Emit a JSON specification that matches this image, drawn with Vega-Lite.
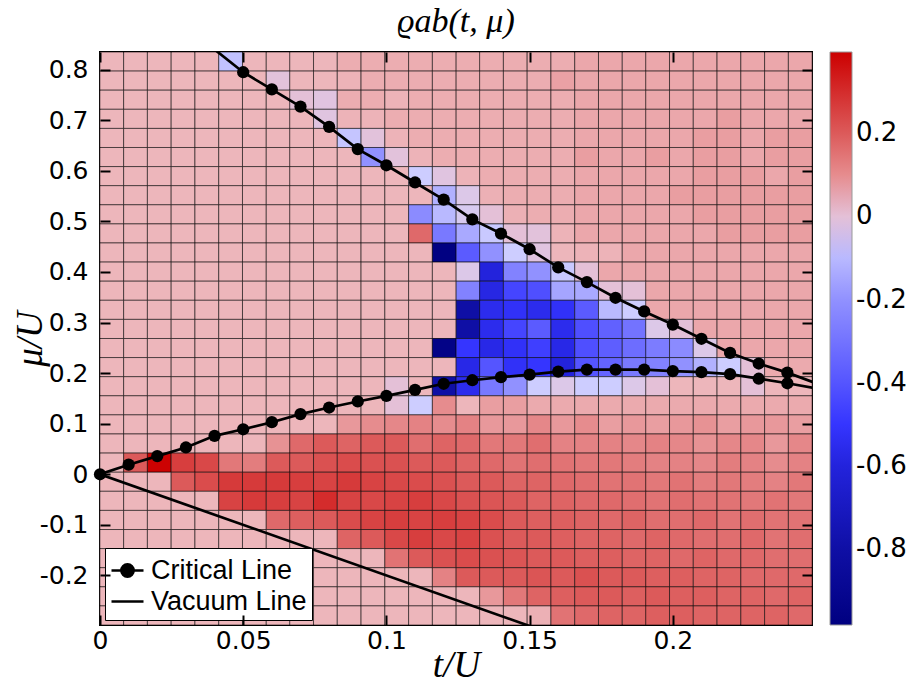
{
"$schema": "https://vega.github.io/schema/vega-lite/v6.json",
"autosize": "none",
"width": 712,
"height": 573,
"padding": {"left": 100, "top": 52, "right": 94, "bottom": 66},
"background": "white",
"config": {"view": {"stroke": "black", "strokeWidth": 2}, "font": "Liberation Sans", "axis": {"labelColor": "black"}, "legend": {"labelColor": "black"}},
"title": {"text": "ϱab(t, μ)", "font": "Liberation Serif", "fontStyle": "italic", "fontWeight": "normal", "fontSize": 34, "color": "black", "offset": 12, "anchor": "middle"},
"datasets": {
"cells": [
{"t":0.0041,"m":0.8161,"v":0.03},{"t":0.0124,"m":0.8161,"v":0.03},{"t":0.0207,"m":0.8161,"v":0.03},{"t":0.029,"m":0.8161,"v":0.03},{"t":0.0373,"m":0.8161,"v":0.03},{"t":0.0456,"m":0.8161,"v":-0.08},{"t":0.0539,"m":0.8161,"v":0.03},{"t":0.0622,"m":0.8161,"v":0.03},{"t":0.0704,"m":0.8161,"v":0.03},{"t":0.0787,"m":0.8161,"v":0.03},{"t":0.087,"m":0.8161,"v":0.045},{"t":0.0953,"m":0.8161,"v":0.045},{"t":0.1036,"m":0.8161,"v":0.045},{"t":0.1119,"m":0.8161,"v":0.045},{"t":0.1202,"m":0.8161,"v":0.045},{"t":0.1285,"m":0.8161,"v":0.045},{"t":0.1367,"m":0.8161,"v":0.045},{"t":0.145,"m":0.8161,"v":0.045},{"t":0.1533,"m":0.8161,"v":0.045},{"t":0.1616,"m":0.8161,"v":0.045},{"t":0.1699,"m":0.8161,"v":0.055},{"t":0.1782,"m":0.8161,"v":0.055},{"t":0.1865,"m":0.8161,"v":0.055},{"t":0.1947,"m":0.8161,"v":0.055},{"t":0.203,"m":0.8161,"v":0.055},{"t":0.2113,"m":0.8161,"v":0.055},{"t":0.2196,"m":0.8161,"v":0.055},{"t":0.2279,"m":0.8161,"v":0.055},{"t":0.2362,"m":0.8161,"v":0.055},{"t":0.2445,"m":0.8161,"v":0.055},
{"t":0.0041,"m":0.7784,"v":0.03},{"t":0.0124,"m":0.7784,"v":0.03},{"t":0.0207,"m":0.7784,"v":0.03},{"t":0.029,"m":0.7784,"v":0.03},{"t":0.0373,"m":0.7784,"v":0.03},{"t":0.0456,"m":0.7784,"v":0.03},{"t":0.0539,"m":0.7784,"v":0.03},{"t":0.0622,"m":0.7784,"v":-0.005},{"t":0.0704,"m":0.7784,"v":0.03},{"t":0.0787,"m":0.7784,"v":0.03},{"t":0.087,"m":0.7784,"v":0.035},{"t":0.0953,"m":0.7784,"v":0.045},{"t":0.1036,"m":0.7784,"v":0.045},{"t":0.1119,"m":0.7784,"v":0.045},{"t":0.1202,"m":0.7784,"v":0.045},{"t":0.1285,"m":0.7784,"v":0.045},{"t":0.1367,"m":0.7784,"v":0.045},{"t":0.145,"m":0.7784,"v":0.045},{"t":0.1533,"m":0.7784,"v":0.045},{"t":0.1616,"m":0.7784,"v":0.065},{"t":0.1699,"m":0.7784,"v":0.055},{"t":0.1782,"m":0.7784,"v":0.055},{"t":0.1865,"m":0.7784,"v":0.055},{"t":0.1947,"m":0.7784,"v":0.055},{"t":0.203,"m":0.7784,"v":0.055},{"t":0.2113,"m":0.7784,"v":0.055},{"t":0.2196,"m":0.7784,"v":0.055},{"t":0.2279,"m":0.7784,"v":0.055},{"t":0.2362,"m":0.7784,"v":0.055},{"t":0.2445,"m":0.7784,"v":0.055},
{"t":0.0041,"m":0.7406,"v":0.03},{"t":0.0124,"m":0.7406,"v":0.03},{"t":0.0207,"m":0.7406,"v":0.03},{"t":0.029,"m":0.7406,"v":0.03},{"t":0.0373,"m":0.7406,"v":0.03},{"t":0.0456,"m":0.7406,"v":0.03},{"t":0.0539,"m":0.7406,"v":0.03},{"t":0.0622,"m":0.7406,"v":0.03},{"t":0.0704,"m":0.7406,"v":0},{"t":0.0787,"m":0.7406,"v":-0.01},{"t":0.087,"m":0.7406,"v":0.045},{"t":0.0953,"m":0.7406,"v":0.045},{"t":0.1036,"m":0.7406,"v":0.035},{"t":0.1119,"m":0.7406,"v":0.045},{"t":0.1202,"m":0.7406,"v":0.045},{"t":0.1285,"m":0.7406,"v":0.045},{"t":0.1367,"m":0.7406,"v":0.045},{"t":0.145,"m":0.7406,"v":0.045},{"t":0.1533,"m":0.7406,"v":0.045},{"t":0.1616,"m":0.7406,"v":0.045},{"t":0.1699,"m":0.7406,"v":0.055},{"t":0.1782,"m":0.7406,"v":0.055},{"t":0.1865,"m":0.7406,"v":0.055},{"t":0.1947,"m":0.7406,"v":0.055},{"t":0.203,"m":0.7406,"v":0.055},{"t":0.2113,"m":0.7406,"v":0.055},{"t":0.2196,"m":0.7406,"v":0.055},{"t":0.2279,"m":0.7406,"v":0.055},{"t":0.2362,"m":0.7406,"v":0.055},{"t":0.2445,"m":0.7406,"v":0.055},
{"t":0.0041,"m":0.7028,"v":0.03},{"t":0.0124,"m":0.7028,"v":0.03},{"t":0.0207,"m":0.7028,"v":0.03},{"t":0.029,"m":0.7028,"v":0.03},{"t":0.0373,"m":0.7028,"v":0.03},{"t":0.0456,"m":0.7028,"v":0.03},{"t":0.0539,"m":0.7028,"v":0.03},{"t":0.0622,"m":0.7028,"v":0.03},{"t":0.0704,"m":0.7028,"v":0.03},{"t":0.0787,"m":0.7028,"v":-0.01},{"t":0.087,"m":0.7028,"v":0.035},{"t":0.0953,"m":0.7028,"v":0.035},{"t":0.1036,"m":0.7028,"v":0.045},{"t":0.1119,"m":0.7028,"v":0.045},{"t":0.1202,"m":0.7028,"v":0.045},{"t":0.1285,"m":0.7028,"v":0.045},{"t":0.1367,"m":0.7028,"v":0.045},{"t":0.145,"m":0.7028,"v":0.045},{"t":0.1533,"m":0.7028,"v":0.045},{"t":0.1616,"m":0.7028,"v":0.045},{"t":0.1699,"m":0.7028,"v":0.055},{"t":0.1782,"m":0.7028,"v":0.055},{"t":0.1865,"m":0.7028,"v":0.055},{"t":0.1947,"m":0.7028,"v":0.055},{"t":0.203,"m":0.7028,"v":0.055},{"t":0.2113,"m":0.7028,"v":0.055},{"t":0.2196,"m":0.7028,"v":0.07},{"t":0.2279,"m":0.7028,"v":0.055},{"t":0.2362,"m":0.7028,"v":0.055},{"t":0.2445,"m":0.7028,"v":0.055},
{"t":0.0041,"m":0.665,"v":0.03},{"t":0.0124,"m":0.665,"v":0.03},{"t":0.0207,"m":0.665,"v":0.03},{"t":0.029,"m":0.665,"v":0.03},{"t":0.0373,"m":0.665,"v":0.03},{"t":0.0456,"m":0.665,"v":0.03},{"t":0.0539,"m":0.665,"v":0.03},{"t":0.0622,"m":0.665,"v":0.03},{"t":0.0704,"m":0.665,"v":0.03},{"t":0.0787,"m":0.665,"v":0.03},{"t":0.087,"m":0.665,"v":-0.07},{"t":0.0953,"m":0.665,"v":-0.005},{"t":0.1036,"m":0.665,"v":0.035},{"t":0.1119,"m":0.665,"v":0.045},{"t":0.1202,"m":0.665,"v":0.045},{"t":0.1285,"m":0.665,"v":0.045},{"t":0.1367,"m":0.665,"v":0.045},{"t":0.145,"m":0.665,"v":0.045},{"t":0.1533,"m":0.665,"v":0.045},{"t":0.1616,"m":0.665,"v":0.045},{"t":0.1699,"m":0.665,"v":0.055},{"t":0.1782,"m":0.665,"v":0.055},{"t":0.1865,"m":0.665,"v":0.055},{"t":0.1947,"m":0.665,"v":0.055},{"t":0.203,"m":0.665,"v":0.055},{"t":0.2113,"m":0.665,"v":0.07},{"t":0.2196,"m":0.665,"v":0.07},{"t":0.2279,"m":0.665,"v":0.055},{"t":0.2362,"m":0.665,"v":0.07},{"t":0.2445,"m":0.665,"v":0.07},
{"t":0.0041,"m":0.6273,"v":0.03},{"t":0.0124,"m":0.6273,"v":0.03},{"t":0.0207,"m":0.6273,"v":0.03},{"t":0.029,"m":0.6273,"v":0.03},{"t":0.0373,"m":0.6273,"v":0.03},{"t":0.0456,"m":0.6273,"v":0.03},{"t":0.0539,"m":0.6273,"v":0.03},{"t":0.0622,"m":0.6273,"v":0.03},{"t":0.0704,"m":0.6273,"v":0.03},{"t":0.0787,"m":0.6273,"v":0.03},{"t":0.087,"m":0.6273,"v":0.03},{"t":0.0953,"m":0.6273,"v":-0.2},{"t":0.1036,"m":0.6273,"v":-0.005},{"t":0.1119,"m":0.6273,"v":0.035},{"t":0.1202,"m":0.6273,"v":0.045},{"t":0.1285,"m":0.6273,"v":0.045},{"t":0.1367,"m":0.6273,"v":0.045},{"t":0.145,"m":0.6273,"v":0.045},{"t":0.1533,"m":0.6273,"v":0.045},{"t":0.1616,"m":0.6273,"v":0.045},{"t":0.1699,"m":0.6273,"v":0.07},{"t":0.1782,"m":0.6273,"v":0.055},{"t":0.1865,"m":0.6273,"v":0.055},{"t":0.1947,"m":0.6273,"v":0.07},{"t":0.203,"m":0.6273,"v":0.055},{"t":0.2113,"m":0.6273,"v":0.07},{"t":0.2196,"m":0.6273,"v":0.07},{"t":0.2279,"m":0.6273,"v":0.055},{"t":0.2362,"m":0.6273,"v":0.07},{"t":0.2445,"m":0.6273,"v":0.07},
{"t":0.0041,"m":0.5895,"v":0.03},{"t":0.0124,"m":0.5895,"v":0.03},{"t":0.0207,"m":0.5895,"v":0.03},{"t":0.029,"m":0.5895,"v":0.03},{"t":0.0373,"m":0.5895,"v":0.03},{"t":0.0456,"m":0.5895,"v":0.03},{"t":0.0539,"m":0.5895,"v":0.03},{"t":0.0622,"m":0.5895,"v":0.03},{"t":0.0704,"m":0.5895,"v":0.03},{"t":0.0787,"m":0.5895,"v":0.03},{"t":0.087,"m":0.5895,"v":0.03},{"t":0.0953,"m":0.5895,"v":0.03},{"t":0.1036,"m":0.5895,"v":0.03},{"t":0.1119,"m":0.5895,"v":-0.05},{"t":0.1202,"m":0.5895,"v":-0.01},{"t":0.1285,"m":0.5895,"v":0.035},{"t":0.1367,"m":0.5895,"v":0.045},{"t":0.145,"m":0.5895,"v":0.045},{"t":0.1533,"m":0.5895,"v":0.045},{"t":0.1616,"m":0.5895,"v":0.045},{"t":0.1699,"m":0.5895,"v":0.055},{"t":0.1782,"m":0.5895,"v":0.055},{"t":0.1865,"m":0.5895,"v":0.055},{"t":0.1947,"m":0.5895,"v":0.055},{"t":0.203,"m":0.5895,"v":0.055},{"t":0.2113,"m":0.5895,"v":0.07},{"t":0.2196,"m":0.5895,"v":0.07},{"t":0.2279,"m":0.5895,"v":0.07},{"t":0.2362,"m":0.5895,"v":0.055},{"t":0.2445,"m":0.5895,"v":0.07},
{"t":0.0041,"m":0.5518,"v":0.03},{"t":0.0124,"m":0.5518,"v":0.03},{"t":0.0207,"m":0.5518,"v":0.03},{"t":0.029,"m":0.5518,"v":0.03},{"t":0.0373,"m":0.5518,"v":0.03},{"t":0.0456,"m":0.5518,"v":0.03},{"t":0.0539,"m":0.5518,"v":0.03},{"t":0.0622,"m":0.5518,"v":0.03},{"t":0.0704,"m":0.5518,"v":0.03},{"t":0.0787,"m":0.5518,"v":0.03},{"t":0.087,"m":0.5518,"v":0.03},{"t":0.0953,"m":0.5518,"v":0.03},{"t":0.1036,"m":0.5518,"v":0.03},{"t":0.1119,"m":0.5518,"v":0.03},{"t":0.1202,"m":0.5518,"v":-0.12},{"t":0.1285,"m":0.5518,"v":-0.02},{"t":0.1367,"m":0.5518,"v":0.04},{"t":0.145,"m":0.5518,"v":0.045},{"t":0.1533,"m":0.5518,"v":0.045},{"t":0.1616,"m":0.5518,"v":0.045},{"t":0.1699,"m":0.5518,"v":0.055},{"t":0.1782,"m":0.5518,"v":0.055},{"t":0.1865,"m":0.5518,"v":0.055},{"t":0.1947,"m":0.5518,"v":0.055},{"t":0.203,"m":0.5518,"v":0.07},{"t":0.2113,"m":0.5518,"v":0.07},{"t":0.2196,"m":0.5518,"v":0.07},{"t":0.2279,"m":0.5518,"v":0.07},{"t":0.2362,"m":0.5518,"v":0.07},{"t":0.2445,"m":0.5518,"v":0.07},
{"t":0.0041,"m":0.514,"v":0.03},{"t":0.0124,"m":0.514,"v":0.03},{"t":0.0207,"m":0.514,"v":0.03},{"t":0.029,"m":0.514,"v":0.03},{"t":0.0373,"m":0.514,"v":0.03},{"t":0.0456,"m":0.514,"v":0.03},{"t":0.0539,"m":0.514,"v":0.03},{"t":0.0622,"m":0.514,"v":0.03},{"t":0.0704,"m":0.514,"v":0.03},{"t":0.0787,"m":0.514,"v":0.03},{"t":0.087,"m":0.514,"v":0.03},{"t":0.0953,"m":0.514,"v":0.03},{"t":0.1036,"m":0.514,"v":0.03},{"t":0.1119,"m":0.514,"v":-0.22},{"t":0.1202,"m":0.514,"v":-0.1},{"t":0.1285,"m":0.514,"v":-0.03},{"t":0.1367,"m":0.514,"v":0},{"t":0.145,"m":0.514,"v":0.04},{"t":0.1533,"m":0.514,"v":0.045},{"t":0.1616,"m":0.514,"v":0.045},{"t":0.1699,"m":0.514,"v":0.055},{"t":0.1782,"m":0.514,"v":0.055},{"t":0.1865,"m":0.514,"v":0.055},{"t":0.1947,"m":0.514,"v":0.055},{"t":0.203,"m":0.514,"v":0.055},{"t":0.2113,"m":0.514,"v":0.07},{"t":0.2196,"m":0.514,"v":0.07},{"t":0.2279,"m":0.514,"v":0.07},{"t":0.2362,"m":0.514,"v":0.07},{"t":0.2445,"m":0.514,"v":0.07},
{"t":0.0041,"m":0.4762,"v":0.03},{"t":0.0124,"m":0.4762,"v":0.03},{"t":0.0207,"m":0.4762,"v":0.03},{"t":0.029,"m":0.4762,"v":0.03},{"t":0.0373,"m":0.4762,"v":0.03},{"t":0.0456,"m":0.4762,"v":0.03},{"t":0.0539,"m":0.4762,"v":0.03},{"t":0.0622,"m":0.4762,"v":0.03},{"t":0.0704,"m":0.4762,"v":0.03},{"t":0.0787,"m":0.4762,"v":0.03},{"t":0.087,"m":0.4762,"v":0.03},{"t":0.0953,"m":0.4762,"v":0.03},{"t":0.1036,"m":0.4762,"v":0.03},{"t":0.1119,"m":0.4762,"v":0.17},{"t":0.1202,"m":0.4762,"v":-0.28},{"t":0.1285,"m":0.4762,"v":-0.14},{"t":0.1367,"m":0.4762,"v":-0.06},{"t":0.145,"m":0.4762,"v":0},{"t":0.1533,"m":0.4762,"v":-0.005},{"t":0.1616,"m":0.4762,"v":0.035},{"t":0.1699,"m":0.4762,"v":0.055},{"t":0.1782,"m":0.4762,"v":0.055},{"t":0.1865,"m":0.4762,"v":0.055},{"t":0.1947,"m":0.4762,"v":0.055},{"t":0.203,"m":0.4762,"v":0.055},{"t":0.2113,"m":0.4762,"v":0.055},{"t":0.2196,"m":0.4762,"v":0.07},{"t":0.2279,"m":0.4762,"v":0.07},{"t":0.2362,"m":0.4762,"v":0.07},{"t":0.2445,"m":0.4762,"v":0.07},
{"t":0.0041,"m":0.4385,"v":0.03},{"t":0.0124,"m":0.4385,"v":0.03},{"t":0.0207,"m":0.4385,"v":0.03},{"t":0.029,"m":0.4385,"v":0.03},{"t":0.0373,"m":0.4385,"v":0.03},{"t":0.0456,"m":0.4385,"v":0.03},{"t":0.0539,"m":0.4385,"v":0.03},{"t":0.0622,"m":0.4385,"v":0.03},{"t":0.0704,"m":0.4385,"v":0.03},{"t":0.0787,"m":0.4385,"v":0.03},{"t":0.087,"m":0.4385,"v":0.03},{"t":0.0953,"m":0.4385,"v":0.03},{"t":0.1036,"m":0.4385,"v":0.03},{"t":0.1119,"m":0.4385,"v":0.03},{"t":0.1202,"m":0.4385,"v":-0.97},{"t":0.1285,"m":0.4385,"v":-0.38},{"t":0.1367,"m":0.4385,"v":-0.2},{"t":0.145,"m":0.4385,"v":-0.05},{"t":0.1533,"m":0.4385,"v":-0.01},{"t":0.1616,"m":0.4385,"v":0.03},{"t":0.1699,"m":0.4385,"v":0.035},{"t":0.1782,"m":0.4385,"v":0.035},{"t":0.1865,"m":0.4385,"v":0.055},{"t":0.1947,"m":0.4385,"v":0.055},{"t":0.203,"m":0.4385,"v":0.055},{"t":0.2113,"m":0.4385,"v":0.055},{"t":0.2196,"m":0.4385,"v":0.055},{"t":0.2279,"m":0.4385,"v":0.055},{"t":0.2362,"m":0.4385,"v":0.055},{"t":0.2445,"m":0.4385,"v":0.055},
{"t":0.0041,"m":0.4007,"v":0.03},{"t":0.0124,"m":0.4007,"v":0.03},{"t":0.0207,"m":0.4007,"v":0.03},{"t":0.029,"m":0.4007,"v":0.03},{"t":0.0373,"m":0.4007,"v":0.03},{"t":0.0456,"m":0.4007,"v":0.03},{"t":0.0539,"m":0.4007,"v":0.03},{"t":0.0622,"m":0.4007,"v":0.03},{"t":0.0704,"m":0.4007,"v":0.03},{"t":0.0787,"m":0.4007,"v":0.03},{"t":0.087,"m":0.4007,"v":0.03},{"t":0.0953,"m":0.4007,"v":0.03},{"t":0.1036,"m":0.4007,"v":0.03},{"t":0.1119,"m":0.4007,"v":0.03},{"t":0.1202,"m":0.4007,"v":0.03},{"t":0.1285,"m":0.4007,"v":-0.02},{"t":0.1367,"m":0.4007,"v":-0.6},{"t":0.145,"m":0.4007,"v":-0.25},{"t":0.1533,"m":0.4007,"v":-0.2},{"t":0.1616,"m":0.4007,"v":-0.06},{"t":0.1699,"m":0.4007,"v":0},{"t":0.1782,"m":0.4007,"v":0.055},{"t":0.1865,"m":0.4007,"v":0.055},{"t":0.1947,"m":0.4007,"v":0.055},{"t":0.203,"m":0.4007,"v":0.055},{"t":0.2113,"m":0.4007,"v":0.055},{"t":0.2196,"m":0.4007,"v":0.055},{"t":0.2279,"m":0.4007,"v":0.055},{"t":0.2362,"m":0.4007,"v":0.055},{"t":0.2445,"m":0.4007,"v":0.055},
{"t":0.0041,"m":0.3629,"v":0.03},{"t":0.0124,"m":0.3629,"v":0.03},{"t":0.0207,"m":0.3629,"v":0.03},{"t":0.029,"m":0.3629,"v":0.03},{"t":0.0373,"m":0.3629,"v":0.03},{"t":0.0456,"m":0.3629,"v":0.03},{"t":0.0539,"m":0.3629,"v":0.03},{"t":0.0622,"m":0.3629,"v":0.03},{"t":0.0704,"m":0.3629,"v":0.03},{"t":0.0787,"m":0.3629,"v":0.03},{"t":0.087,"m":0.3629,"v":0.03},{"t":0.0953,"m":0.3629,"v":0.03},{"t":0.1036,"m":0.3629,"v":0.03},{"t":0.1119,"m":0.3629,"v":0.03},{"t":0.1202,"m":0.3629,"v":0.03},{"t":0.1285,"m":0.3629,"v":-0.25},{"t":0.1367,"m":0.3629,"v":-0.58},{"t":0.145,"m":0.3629,"v":-0.45},{"t":0.1533,"m":0.3629,"v":-0.42},{"t":0.1616,"m":0.3629,"v":-0.15},{"t":0.1699,"m":0.3629,"v":-0.14},{"t":0.1782,"m":0.3629,"v":0},{"t":0.1865,"m":0.3629,"v":0},{"t":0.1947,"m":0.3629,"v":0.055},{"t":0.203,"m":0.3629,"v":0.055},{"t":0.2113,"m":0.3629,"v":0.055},{"t":0.2196,"m":0.3629,"v":0.055},{"t":0.2279,"m":0.3629,"v":0.055},{"t":0.2362,"m":0.3629,"v":0.055},{"t":0.2445,"m":0.3629,"v":0.055},
{"t":0.0041,"m":0.3252,"v":0.03},{"t":0.0124,"m":0.3252,"v":0.03},{"t":0.0207,"m":0.3252,"v":0.03},{"t":0.029,"m":0.3252,"v":0.03},{"t":0.0373,"m":0.3252,"v":0.03},{"t":0.0456,"m":0.3252,"v":0.03},{"t":0.0539,"m":0.3252,"v":0.03},{"t":0.0622,"m":0.3252,"v":0.03},{"t":0.0704,"m":0.3252,"v":0.03},{"t":0.0787,"m":0.3252,"v":0.03},{"t":0.087,"m":0.3252,"v":0.03},{"t":0.0953,"m":0.3252,"v":0.03},{"t":0.1036,"m":0.3252,"v":0.03},{"t":0.1119,"m":0.3252,"v":0.03},{"t":0.1202,"m":0.3252,"v":0.03},{"t":0.1285,"m":0.3252,"v":-0.8},{"t":0.1367,"m":0.3252,"v":-0.55},{"t":0.145,"m":0.3252,"v":-0.52},{"t":0.1533,"m":0.3252,"v":-0.55},{"t":0.1616,"m":0.3252,"v":-0.52},{"t":0.1699,"m":0.3252,"v":-0.38},{"t":0.1782,"m":0.3252,"v":-0.1},{"t":0.1865,"m":0.3252,"v":-0.05},{"t":0.1947,"m":0.3252,"v":0.055},{"t":0.203,"m":0.3252,"v":0.055},{"t":0.2113,"m":0.3252,"v":0.055},{"t":0.2196,"m":0.3252,"v":0.055},{"t":0.2279,"m":0.3252,"v":0.055},{"t":0.2362,"m":0.3252,"v":0.055},{"t":0.2445,"m":0.3252,"v":0.055},
{"t":0.0041,"m":0.2874,"v":0.03},{"t":0.0124,"m":0.2874,"v":0.03},{"t":0.0207,"m":0.2874,"v":0.03},{"t":0.029,"m":0.2874,"v":0.03},{"t":0.0373,"m":0.2874,"v":0.03},{"t":0.0456,"m":0.2874,"v":0.03},{"t":0.0539,"m":0.2874,"v":0.03},{"t":0.0622,"m":0.2874,"v":0.03},{"t":0.0704,"m":0.2874,"v":0.03},{"t":0.0787,"m":0.2874,"v":0.03},{"t":0.087,"m":0.2874,"v":0.03},{"t":0.0953,"m":0.2874,"v":0.03},{"t":0.1036,"m":0.2874,"v":0.03},{"t":0.1119,"m":0.2874,"v":0.03},{"t":0.1202,"m":0.2874,"v":0.03},{"t":0.1285,"m":0.2874,"v":-0.8},{"t":0.1367,"m":0.2874,"v":-0.55},{"t":0.145,"m":0.2874,"v":-0.45},{"t":0.1533,"m":0.2874,"v":-0.38},{"t":0.1616,"m":0.2874,"v":-0.55},{"t":0.1699,"m":0.2874,"v":-0.42},{"t":0.1782,"m":0.2874,"v":-0.36},{"t":0.1865,"m":0.2874,"v":-0.3},{"t":0.1947,"m":0.2874,"v":-0.02},{"t":0.203,"m":0.2874,"v":0},{"t":0.2113,"m":0.2874,"v":0.055},{"t":0.2196,"m":0.2874,"v":0.055},{"t":0.2279,"m":0.2874,"v":0.055},{"t":0.2362,"m":0.2874,"v":0.055},{"t":0.2445,"m":0.2874,"v":0.055},
{"t":0.0041,"m":0.2496,"v":0.03},{"t":0.0124,"m":0.2496,"v":0.03},{"t":0.0207,"m":0.2496,"v":0.03},{"t":0.029,"m":0.2496,"v":0.03},{"t":0.0373,"m":0.2496,"v":0.03},{"t":0.0456,"m":0.2496,"v":0.03},{"t":0.0539,"m":0.2496,"v":0.03},{"t":0.0622,"m":0.2496,"v":0.03},{"t":0.0704,"m":0.2496,"v":0.03},{"t":0.0787,"m":0.2496,"v":0.03},{"t":0.087,"m":0.2496,"v":0.03},{"t":0.0953,"m":0.2496,"v":0.03},{"t":0.1036,"m":0.2496,"v":0.03},{"t":0.1119,"m":0.2496,"v":0.03},{"t":0.1202,"m":0.2496,"v":-0.95},{"t":0.1285,"m":0.2496,"v":-0.5},{"t":0.1367,"m":0.2496,"v":-0.57},{"t":0.145,"m":0.2496,"v":-0.52},{"t":0.1533,"m":0.2496,"v":-0.47},{"t":0.1616,"m":0.2496,"v":-0.57},{"t":0.1699,"m":0.2496,"v":-0.42},{"t":0.1782,"m":0.2496,"v":-0.37},{"t":0.1865,"m":0.2496,"v":-0.32},{"t":0.1947,"m":0.2496,"v":-0.27},{"t":0.203,"m":0.2496,"v":-0.22},{"t":0.2113,"m":0.2496,"v":-0.02},{"t":0.2196,"m":0.2496,"v":0.055},{"t":0.2279,"m":0.2496,"v":0.055},{"t":0.2362,"m":0.2496,"v":0.055},{"t":0.2445,"m":0.2496,"v":0.055},
{"t":0.0041,"m":0.2119,"v":0.03},{"t":0.0124,"m":0.2119,"v":0.03},{"t":0.0207,"m":0.2119,"v":0.03},{"t":0.029,"m":0.2119,"v":0.03},{"t":0.0373,"m":0.2119,"v":0.03},{"t":0.0456,"m":0.2119,"v":0.03},{"t":0.0539,"m":0.2119,"v":0.03},{"t":0.0622,"m":0.2119,"v":0.03},{"t":0.0704,"m":0.2119,"v":0.03},{"t":0.0787,"m":0.2119,"v":0.03},{"t":0.087,"m":0.2119,"v":0.03},{"t":0.0953,"m":0.2119,"v":0.03},{"t":0.1036,"m":0.2119,"v":0.03},{"t":0.1119,"m":0.2119,"v":0.03},{"t":0.1202,"m":0.2119,"v":0.03},{"t":0.1285,"m":0.2119,"v":-0.57},{"t":0.1367,"m":0.2119,"v":-0.4},{"t":0.145,"m":0.2119,"v":-0.52},{"t":0.1533,"m":0.2119,"v":-0.5},{"t":0.1616,"m":0.2119,"v":-0.6},{"t":0.1699,"m":0.2119,"v":-0.4},{"t":0.1782,"m":0.2119,"v":-0.35},{"t":0.1865,"m":0.2119,"v":-0.28},{"t":0.1947,"m":0.2119,"v":-0.25},{"t":0.203,"m":0.2119,"v":-0.2},{"t":0.2113,"m":0.2119,"v":-0.12},{"t":0.2196,"m":0.2119,"v":-0.05},{"t":0.2279,"m":0.2119,"v":0},{"t":0.2362,"m":0.2119,"v":0.05},{"t":0.2445,"m":0.2119,"v":0.05},
{"t":0.0041,"m":0.1741,"v":0.03},{"t":0.0124,"m":0.1741,"v":0.03},{"t":0.0207,"m":0.1741,"v":0.03},{"t":0.029,"m":0.1741,"v":0.03},{"t":0.0373,"m":0.1741,"v":0.03},{"t":0.0456,"m":0.1741,"v":0.03},{"t":0.0539,"m":0.1741,"v":0.03},{"t":0.0622,"m":0.1741,"v":0.03},{"t":0.0704,"m":0.1741,"v":0.03},{"t":0.0787,"m":0.1741,"v":0.03},{"t":0.087,"m":0.1741,"v":0.03},{"t":0.0953,"m":0.1741,"v":0.03},{"t":0.1036,"m":0.1741,"v":0},{"t":0.1119,"m":0.1741,"v":0.03},{"t":0.1202,"m":0.1741,"v":-0.8},{"t":0.1285,"m":0.1741,"v":-0.55},{"t":0.1367,"m":0.1741,"v":-0.28},{"t":0.145,"m":0.1741,"v":-0.2},{"t":0.1533,"m":0.1741,"v":-0.05},{"t":0.1616,"m":0.1741,"v":-0.02},{"t":0.1699,"m":0.1741,"v":-0.05},{"t":0.1782,"m":0.1741,"v":-0.05},{"t":0.1865,"m":0.1741,"v":-0.02},{"t":0.1947,"m":0.1741,"v":0},{"t":0.203,"m":0.1741,"v":0.03},{"t":0.2113,"m":0.1741,"v":0.03},{"t":0.2196,"m":0.1741,"v":0.03},{"t":0.2279,"m":0.1741,"v":0},{"t":0.2362,"m":0.1741,"v":0.03},{"t":0.2445,"m":0.1741,"v":0.03},
{"t":0.0041,"m":0.1363,"v":0.03},{"t":0.0124,"m":0.1363,"v":0.03},{"t":0.0207,"m":0.1363,"v":0.03},{"t":0.029,"m":0.1363,"v":0.03},{"t":0.0373,"m":0.1363,"v":0.03},{"t":0.0456,"m":0.1363,"v":0.03},{"t":0.0539,"m":0.1363,"v":0.03},{"t":0.0622,"m":0.1363,"v":0.03},{"t":0.0704,"m":0.1363,"v":0.03},{"t":0.0787,"m":0.1363,"v":0.03},{"t":0.087,"m":0.1363,"v":0.03},{"t":0.0953,"m":0.1363,"v":0.03},{"t":0.1036,"m":0.1363,"v":0},{"t":0.1119,"m":0.1363,"v":-0.05},{"t":0.1202,"m":0.1363,"v":0.1},{"t":0.1285,"m":0.1363,"v":0.03},{"t":0.1367,"m":0.1363,"v":0.07},{"t":0.145,"m":0.1363,"v":0.07},{"t":0.1533,"m":0.1363,"v":0.05},{"t":0.1616,"m":0.1363,"v":0.05},{"t":0.1699,"m":0.1363,"v":0.05},{"t":0.1782,"m":0.1363,"v":0.05},{"t":0.1865,"m":0.1363,"v":0.05},{"t":0.1947,"m":0.1363,"v":0.05},{"t":0.203,"m":0.1363,"v":0.05},{"t":0.2113,"m":0.1363,"v":0.05},{"t":0.2196,"m":0.1363,"v":0.05},{"t":0.2279,"m":0.1363,"v":0.05},{"t":0.2362,"m":0.1363,"v":0.05},{"t":0.2445,"m":0.1363,"v":0.05},
{"t":0.0041,"m":0.0986,"v":0.03},{"t":0.0124,"m":0.0986,"v":0.03},{"t":0.0207,"m":0.0986,"v":0.03},{"t":0.029,"m":0.0986,"v":0.03},{"t":0.0373,"m":0.0986,"v":0.03},{"t":0.0456,"m":0.0986,"v":0.03},{"t":0.0539,"m":0.0986,"v":0.03},{"t":0.0622,"m":0.0986,"v":0.03},{"t":0.0704,"m":0.0986,"v":0.03},{"t":0.0787,"m":0.0986,"v":0.03},{"t":0.087,"m":0.0986,"v":0.08},{"t":0.0953,"m":0.0986,"v":0.1},{"t":0.1036,"m":0.0986,"v":0.11},{"t":0.1119,"m":0.0986,"v":0.12},{"t":0.1202,"m":0.0986,"v":0.1},{"t":0.1285,"m":0.0986,"v":0.12},{"t":0.1367,"m":0.0986,"v":0.08},{"t":0.145,"m":0.0986,"v":0.08},{"t":0.1533,"m":0.0986,"v":0.11},{"t":0.1616,"m":0.0986,"v":0.08},{"t":0.1699,"m":0.0986,"v":0.1},{"t":0.1782,"m":0.0986,"v":0.07},{"t":0.1865,"m":0.0986,"v":0.08},{"t":0.1947,"m":0.0986,"v":0.07},{"t":0.203,"m":0.0986,"v":0.08},{"t":0.2113,"m":0.0986,"v":0.09},{"t":0.2196,"m":0.0986,"v":0.07},{"t":0.2279,"m":0.0986,"v":0.08},{"t":0.2362,"m":0.0986,"v":0.08},{"t":0.2445,"m":0.0986,"v":0.07},
{"t":0.0041,"m":0.0608,"v":0.03},{"t":0.0124,"m":0.0608,"v":0.03},{"t":0.0207,"m":0.0608,"v":0.03},{"t":0.029,"m":0.0608,"v":0.03},{"t":0.0373,"m":0.0608,"v":0.03},{"t":0.0456,"m":0.0608,"v":0.03},{"t":0.0539,"m":0.0608,"v":0.03},{"t":0.0622,"m":0.0608,"v":0.09},{"t":0.0704,"m":0.0608,"v":0.17},{"t":0.0787,"m":0.0608,"v":0.2},{"t":0.087,"m":0.0608,"v":0.18},{"t":0.0953,"m":0.0608,"v":0.2},{"t":0.1036,"m":0.0608,"v":0.2},{"t":0.1119,"m":0.0608,"v":0.16},{"t":0.1202,"m":0.0608,"v":0.18},{"t":0.1285,"m":0.0608,"v":0.17},{"t":0.1367,"m":0.0608,"v":0.14},{"t":0.145,"m":0.0608,"v":0.14},{"t":0.1533,"m":0.0608,"v":0.16},{"t":0.1616,"m":0.0608,"v":0.12},{"t":0.1699,"m":0.0608,"v":0.12},{"t":0.1782,"m":0.0608,"v":0.12},{"t":0.1865,"m":0.0608,"v":0.11},{"t":0.1947,"m":0.0608,"v":0.12},{"t":0.203,"m":0.0608,"v":0.11},{"t":0.2113,"m":0.0608,"v":0.09},{"t":0.2196,"m":0.0608,"v":0.11},{"t":0.2279,"m":0.0608,"v":0.11},{"t":0.2362,"m":0.0608,"v":0.08},{"t":0.2445,"m":0.0608,"v":0.11},
{"t":0.0041,"m":0.023,"v":0.03},{"t":0.0124,"m":0.023,"v":0.2},{"t":0.0207,"m":0.023,"v":0.39},{"t":0.029,"m":0.023,"v":0.26},{"t":0.0373,"m":0.023,"v":0.24},{"t":0.0456,"m":0.023,"v":0.14},{"t":0.0539,"m":0.023,"v":0.13},{"t":0.0622,"m":0.023,"v":0.2},{"t":0.0704,"m":0.023,"v":0.2},{"t":0.0787,"m":0.023,"v":0.22},{"t":0.087,"m":0.023,"v":0.23},{"t":0.0953,"m":0.023,"v":0.22},{"t":0.1036,"m":0.023,"v":0.22},{"t":0.1119,"m":0.023,"v":0.2},{"t":0.1202,"m":0.023,"v":0.2},{"t":0.1285,"m":0.023,"v":0.18},{"t":0.1367,"m":0.023,"v":0.17},{"t":0.145,"m":0.023,"v":0.15},{"t":0.1533,"m":0.023,"v":0.16},{"t":0.1616,"m":0.023,"v":0.15},{"t":0.1699,"m":0.023,"v":0.14},{"t":0.1782,"m":0.023,"v":0.14},{"t":0.1865,"m":0.023,"v":0.13},{"t":0.1947,"m":0.023,"v":0.12},{"t":0.203,"m":0.023,"v":0.12},{"t":0.2113,"m":0.023,"v":0.11},{"t":0.2196,"m":0.023,"v":0.13},{"t":0.2279,"m":0.023,"v":0.12},{"t":0.2362,"m":0.023,"v":0.1},{"t":0.2445,"m":0.023,"v":0.12},
{"t":0.0041,"m":-0.0148,"v":0.03},{"t":0.0124,"m":-0.0148,"v":0.03},{"t":0.0207,"m":-0.0148,"v":0.03},{"t":0.029,"m":-0.0148,"v":0.2},{"t":0.0373,"m":-0.0148,"v":0.23},{"t":0.0456,"m":-0.0148,"v":0.27},{"t":0.0539,"m":-0.0148,"v":0.27},{"t":0.0622,"m":-0.0148,"v":0.27},{"t":0.0704,"m":-0.0148,"v":0.26},{"t":0.0787,"m":-0.0148,"v":0.25},{"t":0.087,"m":-0.0148,"v":0.27},{"t":0.0953,"m":-0.0148,"v":0.25},{"t":0.1036,"m":-0.0148,"v":0.24},{"t":0.1119,"m":-0.0148,"v":0.23},{"t":0.1202,"m":-0.0148,"v":0.22},{"t":0.1285,"m":-0.0148,"v":0.2},{"t":0.1367,"m":-0.0148,"v":0.2},{"t":0.145,"m":-0.0148,"v":0.18},{"t":0.1533,"m":-0.0148,"v":0.18},{"t":0.1616,"m":-0.0148,"v":0.17},{"t":0.1699,"m":-0.0148,"v":0.16},{"t":0.1782,"m":-0.0148,"v":0.15},{"t":0.1865,"m":-0.0148,"v":0.15},{"t":0.1947,"m":-0.0148,"v":0.14},{"t":0.203,"m":-0.0148,"v":0.15},{"t":0.2113,"m":-0.0148,"v":0.13},{"t":0.2196,"m":-0.0148,"v":0.14},{"t":0.2279,"m":-0.0148,"v":0.13},{"t":0.2362,"m":-0.0148,"v":0.12},{"t":0.2445,"m":-0.0148,"v":0.14},
{"t":0.0041,"m":-0.0525,"v":0.03},{"t":0.0124,"m":-0.0525,"v":0.03},{"t":0.0207,"m":-0.0525,"v":0.03},{"t":0.029,"m":-0.0525,"v":0.03},{"t":0.0373,"m":-0.0525,"v":0.03},{"t":0.0456,"m":-0.0525,"v":0.25},{"t":0.0539,"m":-0.0525,"v":0.27},{"t":0.0622,"m":-0.0525,"v":0.26},{"t":0.0704,"m":-0.0525,"v":0.25},{"t":0.0787,"m":-0.0525,"v":0.3},{"t":0.087,"m":-0.0525,"v":0.25},{"t":0.0953,"m":-0.0525,"v":0.24},{"t":0.1036,"m":-0.0525,"v":0.25},{"t":0.1119,"m":-0.0525,"v":0.26},{"t":0.1202,"m":-0.0525,"v":0.24},{"t":0.1285,"m":-0.0525,"v":0.22},{"t":0.1367,"m":-0.0525,"v":0.21},{"t":0.145,"m":-0.0525,"v":0.2},{"t":0.1533,"m":-0.0525,"v":0.18},{"t":0.1616,"m":-0.0525,"v":0.18},{"t":0.1699,"m":-0.0525,"v":0.17},{"t":0.1782,"m":-0.0525,"v":0.17},{"t":0.1865,"m":-0.0525,"v":0.16},{"t":0.1947,"m":-0.0525,"v":0.15},{"t":0.203,"m":-0.0525,"v":0.16},{"t":0.2113,"m":-0.0525,"v":0.15},{"t":0.2196,"m":-0.0525,"v":0.15},{"t":0.2279,"m":-0.0525,"v":0.14},{"t":0.2362,"m":-0.0525,"v":0.15},{"t":0.2445,"m":-0.0525,"v":0.14},
{"t":0.0041,"m":-0.0903,"v":0.03},{"t":0.0124,"m":-0.0903,"v":0.03},{"t":0.0207,"m":-0.0903,"v":0.03},{"t":0.029,"m":-0.0903,"v":0.03},{"t":0.0373,"m":-0.0903,"v":0.03},{"t":0.0456,"m":-0.0903,"v":0.03},{"t":0.0539,"m":-0.0903,"v":0.03},{"t":0.0622,"m":-0.0903,"v":0.17},{"t":0.0704,"m":-0.0903,"v":0.19},{"t":0.0787,"m":-0.0903,"v":0.2},{"t":0.087,"m":-0.0903,"v":0.23},{"t":0.0953,"m":-0.0903,"v":0.25},{"t":0.1036,"m":-0.0903,"v":0.26},{"t":0.1119,"m":-0.0903,"v":0.25},{"t":0.1202,"m":-0.0903,"v":0.26},{"t":0.1285,"m":-0.0903,"v":0.25},{"t":0.1367,"m":-0.0903,"v":0.23},{"t":0.145,"m":-0.0903,"v":0.2},{"t":0.1533,"m":-0.0903,"v":0.19},{"t":0.1616,"m":-0.0903,"v":0.19},{"t":0.1699,"m":-0.0903,"v":0.18},{"t":0.1782,"m":-0.0903,"v":0.17},{"t":0.1865,"m":-0.0903,"v":0.18},{"t":0.1947,"m":-0.0903,"v":0.16},{"t":0.203,"m":-0.0903,"v":0.16},{"t":0.2113,"m":-0.0903,"v":0.17},{"t":0.2196,"m":-0.0903,"v":0.15},{"t":0.2279,"m":-0.0903,"v":0.16},{"t":0.2362,"m":-0.0903,"v":0.15},{"t":0.2445,"m":-0.0903,"v":0.15},
{"t":0.0041,"m":-0.1281,"v":0.03},{"t":0.0124,"m":-0.1281,"v":0.03},{"t":0.0207,"m":-0.1281,"v":0.03},{"t":0.029,"m":-0.1281,"v":0.03},{"t":0.0373,"m":-0.1281,"v":0.03},{"t":0.0456,"m":-0.1281,"v":0.03},{"t":0.0539,"m":-0.1281,"v":0.03},{"t":0.0622,"m":-0.1281,"v":0.03},{"t":0.0704,"m":-0.1281,"v":0.03},{"t":0.0787,"m":-0.1281,"v":0.03},{"t":0.087,"m":-0.1281,"v":0.18},{"t":0.0953,"m":-0.1281,"v":0.2},{"t":0.1036,"m":-0.1281,"v":0.24},{"t":0.1119,"m":-0.1281,"v":0.26},{"t":0.1202,"m":-0.1281,"v":0.24},{"t":0.1285,"m":-0.1281,"v":0.25},{"t":0.1367,"m":-0.1281,"v":0.22},{"t":0.145,"m":-0.1281,"v":0.2},{"t":0.1533,"m":-0.1281,"v":0.2},{"t":0.1616,"m":-0.1281,"v":0.19},{"t":0.1699,"m":-0.1281,"v":0.18},{"t":0.1782,"m":-0.1281,"v":0.18},{"t":0.1865,"m":-0.1281,"v":0.17},{"t":0.1947,"m":-0.1281,"v":0.18},{"t":0.203,"m":-0.1281,"v":0.17},{"t":0.2113,"m":-0.1281,"v":0.16},{"t":0.2196,"m":-0.1281,"v":0.16},{"t":0.2279,"m":-0.1281,"v":0.17},{"t":0.2362,"m":-0.1281,"v":0.15},{"t":0.2445,"m":-0.1281,"v":0.16},
{"t":0.0041,"m":-0.1658,"v":0.03},{"t":0.0124,"m":-0.1658,"v":0.03},{"t":0.0207,"m":-0.1658,"v":0.03},{"t":0.029,"m":-0.1658,"v":0.03},{"t":0.0373,"m":-0.1658,"v":0.03},{"t":0.0456,"m":-0.1658,"v":0.03},{"t":0.0539,"m":-0.1658,"v":0.03},{"t":0.0622,"m":-0.1658,"v":0.03},{"t":0.0704,"m":-0.1658,"v":0.03},{"t":0.0787,"m":-0.1658,"v":0.03},{"t":0.087,"m":-0.1658,"v":0.03},{"t":0.0953,"m":-0.1658,"v":0.03},{"t":0.1036,"m":-0.1658,"v":0.15},{"t":0.1119,"m":-0.1658,"v":0.2},{"t":0.1202,"m":-0.1658,"v":0.22},{"t":0.1285,"m":-0.1658,"v":0.23},{"t":0.1367,"m":-0.1658,"v":0.22},{"t":0.145,"m":-0.1658,"v":0.21},{"t":0.1533,"m":-0.1658,"v":0.2},{"t":0.1616,"m":-0.1658,"v":0.2},{"t":0.1699,"m":-0.1658,"v":0.19},{"t":0.1782,"m":-0.1658,"v":0.19},{"t":0.1865,"m":-0.1658,"v":0.18},{"t":0.1947,"m":-0.1658,"v":0.18},{"t":0.203,"m":-0.1658,"v":0.17},{"t":0.2113,"m":-0.1658,"v":0.18},{"t":0.2196,"m":-0.1658,"v":0.17},{"t":0.2279,"m":-0.1658,"v":0.17},{"t":0.2362,"m":-0.1658,"v":0.16},{"t":0.2445,"m":-0.1658,"v":0.16},
{"t":0.0041,"m":-0.2036,"v":0.03},{"t":0.0124,"m":-0.2036,"v":0.03},{"t":0.0207,"m":-0.2036,"v":0.03},{"t":0.029,"m":-0.2036,"v":0.03},{"t":0.0373,"m":-0.2036,"v":0.03},{"t":0.0456,"m":-0.2036,"v":0.03},{"t":0.0539,"m":-0.2036,"v":0.03},{"t":0.0622,"m":-0.2036,"v":0.03},{"t":0.0704,"m":-0.2036,"v":0.03},{"t":0.0787,"m":-0.2036,"v":0.03},{"t":0.087,"m":-0.2036,"v":0.03},{"t":0.0953,"m":-0.2036,"v":0.03},{"t":0.1036,"m":-0.2036,"v":0.03},{"t":0.1119,"m":-0.2036,"v":0.03},{"t":0.1202,"m":-0.2036,"v":0.12},{"t":0.1285,"m":-0.2036,"v":0.2},{"t":0.1367,"m":-0.2036,"v":0.2},{"t":0.145,"m":-0.2036,"v":0.2},{"t":0.1533,"m":-0.2036,"v":0.21},{"t":0.1616,"m":-0.2036,"v":0.2},{"t":0.1699,"m":-0.2036,"v":0.22},{"t":0.1782,"m":-0.2036,"v":0.2},{"t":0.1865,"m":-0.2036,"v":0.2},{"t":0.1947,"m":-0.2036,"v":0.19},{"t":0.203,"m":-0.2036,"v":0.19},{"t":0.2113,"m":-0.2036,"v":0.18},{"t":0.2196,"m":-0.2036,"v":0.18},{"t":0.2279,"m":-0.2036,"v":0.17},{"t":0.2362,"m":-0.2036,"v":0.17},{"t":0.2445,"m":-0.2036,"v":0.17},
{"t":0.0041,"m":-0.2414,"v":0.03},{"t":0.0124,"m":-0.2414,"v":0.03},{"t":0.0207,"m":-0.2414,"v":0.03},{"t":0.029,"m":-0.2414,"v":0.03},{"t":0.0373,"m":-0.2414,"v":0.03},{"t":0.0456,"m":-0.2414,"v":0.03},{"t":0.0539,"m":-0.2414,"v":0.03},{"t":0.0622,"m":-0.2414,"v":0.03},{"t":0.0704,"m":-0.2414,"v":0.03},{"t":0.0787,"m":-0.2414,"v":0.03},{"t":0.087,"m":-0.2414,"v":0.03},{"t":0.0953,"m":-0.2414,"v":0.03},{"t":0.1036,"m":-0.2414,"v":0.03},{"t":0.1119,"m":-0.2414,"v":0.03},{"t":0.1202,"m":-0.2414,"v":0.03},{"t":0.1285,"m":-0.2414,"v":0.03},{"t":0.1367,"m":-0.2414,"v":0.08},{"t":0.145,"m":-0.2414,"v":0.14},{"t":0.1533,"m":-0.2414,"v":0.18},{"t":0.1616,"m":-0.2414,"v":0.19},{"t":0.1699,"m":-0.2414,"v":0.2},{"t":0.1782,"m":-0.2414,"v":0.2},{"t":0.1865,"m":-0.2414,"v":0.19},{"t":0.1947,"m":-0.2414,"v":0.2},{"t":0.203,"m":-0.2414,"v":0.19},{"t":0.2113,"m":-0.2414,"v":0.19},{"t":0.2196,"m":-0.2414,"v":0.18},{"t":0.2279,"m":-0.2414,"v":0.18},{"t":0.2362,"m":-0.2414,"v":0.17},{"t":0.2445,"m":-0.2414,"v":0.18},
{"t":0.0041,"m":-0.2791,"v":0.03},{"t":0.0124,"m":-0.2791,"v":0.03},{"t":0.0207,"m":-0.2791,"v":0.03},{"t":0.029,"m":-0.2791,"v":0.03},{"t":0.0373,"m":-0.2791,"v":0.03},{"t":0.0456,"m":-0.2791,"v":0.03},{"t":0.0539,"m":-0.2791,"v":0.03},{"t":0.0622,"m":-0.2791,"v":0.03},{"t":0.0704,"m":-0.2791,"v":0.03},{"t":0.0787,"m":-0.2791,"v":0.03},{"t":0.087,"m":-0.2791,"v":0.03},{"t":0.0953,"m":-0.2791,"v":0.03},{"t":0.1036,"m":-0.2791,"v":0.03},{"t":0.1119,"m":-0.2791,"v":0.03},{"t":0.1202,"m":-0.2791,"v":0.03},{"t":0.1285,"m":-0.2791,"v":0.03},{"t":0.1367,"m":-0.2791,"v":0.03},{"t":0.145,"m":-0.2791,"v":0.03},{"t":0.1533,"m":-0.2791,"v":0.04},{"t":0.1616,"m":-0.2791,"v":0.15},{"t":0.1699,"m":-0.2791,"v":0.17},{"t":0.1782,"m":-0.2791,"v":0.18},{"t":0.1865,"m":-0.2791,"v":0.18},{"t":0.1947,"m":-0.2791,"v":0.19},{"t":0.203,"m":-0.2791,"v":0.19},{"t":0.2113,"m":-0.2791,"v":0.18},{"t":0.2196,"m":-0.2791,"v":0.18},{"t":0.2279,"m":-0.2791,"v":0.18},{"t":0.2362,"m":-0.2791,"v":0.18},{"t":0.2445,"m":-0.2791,"v":0.17}
],
"lines": [
{"series":"Critical Line","branch":"lower","t":0,"mu":0},{"series":"Critical Line","branch":"lower","t":0.01,"mu":0.019},{"series":"Critical Line","branch":"lower","t":0.02,"mu":0.036},{"series":"Critical Line","branch":"lower","t":0.03,"mu":0.053},{"series":"Critical Line","branch":"lower","t":0.04,"mu":0.076},{"series":"Critical Line","branch":"lower","t":0.05,"mu":0.089},{"series":"Critical Line","branch":"lower","t":0.06,"mu":0.103},{"series":"Critical Line","branch":"lower","t":0.07,"mu":0.119},{"series":"Critical Line","branch":"lower","t":0.08,"mu":0.132},{"series":"Critical Line","branch":"lower","t":0.09,"mu":0.144},{"series":"Critical Line","branch":"lower","t":0.1,"mu":0.155},{"series":"Critical Line","branch":"lower","t":0.11,"mu":0.167},{"series":"Critical Line","branch":"lower","t":0.12,"mu":0.179},{"series":"Critical Line","branch":"lower","t":0.13,"mu":0.186},{"series":"Critical Line","branch":"lower","t":0.14,"mu":0.192},{"series":"Critical Line","branch":"lower","t":0.15,"mu":0.197},{"series":"Critical Line","branch":"lower","t":0.16,"mu":0.203},{"series":"Critical Line","branch":"lower","t":0.17,"mu":0.207},{"series":"Critical Line","branch":"lower","t":0.18,"mu":0.207},{"series":"Critical Line","branch":"lower","t":0.19,"mu":0.207},{"series":"Critical Line","branch":"lower","t":0.2,"mu":0.204},{"series":"Critical Line","branch":"lower","t":0.21,"mu":0.202},{"series":"Critical Line","branch":"lower","t":0.22,"mu":0.198},{"series":"Critical Line","branch":"lower","t":0.23,"mu":0.189},{"series":"Critical Line","branch":"lower","t":0.24,"mu":0.18},{"series":"Critical Line","branch":"lower","t":0.25,"mu":0.17},
{"series":"Critical Line","branch":"upper","t":0.04,"mu":0.84},{"series":"Critical Line","branch":"upper","t":0.05,"mu":0.795},{"series":"Critical Line","branch":"upper","t":0.06,"mu":0.761},{"series":"Critical Line","branch":"upper","t":0.07,"mu":0.727},{"series":"Critical Line","branch":"upper","t":0.08,"mu":0.687},{"series":"Critical Line","branch":"upper","t":0.09,"mu":0.643},{"series":"Critical Line","branch":"upper","t":0.1,"mu":0.611},{"series":"Critical Line","branch":"upper","t":0.11,"mu":0.577},{"series":"Critical Line","branch":"upper","t":0.12,"mu":0.543},{"series":"Critical Line","branch":"upper","t":0.13,"mu":0.504},{"series":"Critical Line","branch":"upper","t":0.14,"mu":0.476},{"series":"Critical Line","branch":"upper","t":0.15,"mu":0.445},{"series":"Critical Line","branch":"upper","t":0.16,"mu":0.409},{"series":"Critical Line","branch":"upper","t":0.17,"mu":0.38},{"series":"Critical Line","branch":"upper","t":0.18,"mu":0.349},{"series":"Critical Line","branch":"upper","t":0.19,"mu":0.322},{"series":"Critical Line","branch":"upper","t":0.2,"mu":0.296},{"series":"Critical Line","branch":"upper","t":0.21,"mu":0.268},{"series":"Critical Line","branch":"upper","t":0.22,"mu":0.24},{"series":"Critical Line","branch":"upper","t":0.23,"mu":0.219},{"series":"Critical Line","branch":"upper","t":0.24,"mu":0.201},{"series":"Critical Line","branch":"upper","t":0.25,"mu":0.18},
{"series":"Vacuum Line","branch":"vacuum","t":0,"mu":0},{"series":"Vacuum Line","branch":"vacuum","t":0.15,"mu":-0.3}
]
},
"layer": [
{
"data": {"name": "cells"},
"mark": {"type": "rect", "width": 23.73, "height": 19.1, "stroke": "#000000", "strokeWidth": 0.8, "strokeOpacity": 0.7},
"encoding": {
"x": {"field": "t", "type": "quantitative", "scale": {"domain": [0, 0.2486], "nice": false, "zero": false},
 "axis": {"orient": "bottom", "offset": -10, "zindex": 1, "values": [0, 0.05, 0.1, 0.15, 0.2], "labelExpr": "datum.value < 0 ? '-' + format(-datum.value, '~g') : format(datum.value, '~g')", "labelFont": "DejaVu Sans", "labelFontSize": 25, "labelPadding": 3, "labelFlush": false, "ticks": true, "tickSize": 10, "tickWidth": 2, "tickColor": "black", "domain": false, "grid": false, "title": "t/U", "titleFont": "Liberation Serif", "titleFontStyle": "italic", "titleFontWeight": "normal", "titleFontSize": 37, "titleColor": "black", "titlePadding": -6}},
"y": {"field": "m", "type": "quantitative", "scale": {"domain": [-0.298, 0.835], "nice": false, "zero": false},
 "axis": {"orient": "left", "offset": -10, "zindex": 1, "values": [-0.2, -0.1, 0, 0.1, 0.2, 0.3, 0.4, 0.5, 0.6, 0.7, 0.8], "labelExpr": "datum.value < 0 ? '-' + format(-datum.value, '~g') : format(datum.value, '~g')", "labelFont": "DejaVu Sans", "labelFontSize": 25, "labelPadding": 12, "labelFlush": false, "ticks": true, "tickSize": 10, "tickWidth": 2, "tickColor": "black", "domain": false, "grid": false, "title": "μ/U", "titleFont": "Liberation Serif", "titleFontStyle": "italic", "titleFontWeight": "normal", "titleFontSize": 37, "titleColor": "black", "titlePadding": -10}},
"fill": {"field": "v", "type": "quantitative",
 "scale": {"domain": [-0.982, -0.8, -0.6, -0.5, -0.4, -0.2, -0.05, -0.02, 0, 0.03, 0.1, 0.2, 0.395], "range": ["#000080", "#0f0fa5", "#2323dc", "#3535ff", "#5555ff", "#9191ff", "#cdcdff", "#dcc8e8", "#e4c0d7", "#edb6bb", "#e68c8e", "#dc5a5a", "#cc0000"], "interpolate": "rgb"},
 "legend": {"orient": "right", "offset": 17, "padding": 0, "title": null, "gradientLength": 573, "gradientThickness": 22, "gradientStrokeColor": "#999999", "gradientStrokeWidth": 1, "values": [-0.8, -0.6, -0.4, -0.2, 0, 0.2], "labelExpr": "datum.value < 0 ? '-' + format(-datum.value, '~g') : format(datum.value, '~g')", "labelFont": "DejaVu Sans", "labelFontSize": 26, "labelOffset": 4, "labelOverlap": false}}
}
},
{
"data": {"name": "lines"},
"mark": {"type": "line", "clip": true, "strokeWidth": 2.7},
"encoding": {
"x": {"field": "t", "type": "quantitative", "scale": {"domain": [0, 0.2486], "nice": false, "zero": false},
 "axis": {"orient": "top", "offset": -10, "zindex": 1, "values": [0, 0.05, 0.1, 0.15, 0.2], "labels": false, "ticks": true, "tickSize": 10, "tickWidth": 2, "tickColor": "black", "domain": false, "grid": false, "title": null}},
"y": {"field": "mu", "type": "quantitative", "scale": {"domain": [-0.298, 0.835], "nice": false, "zero": false},
 "axis": {"orient": "right", "offset": -10, "zindex": 1, "values": [-0.2, -0.1, 0, 0.1, 0.2, 0.3, 0.4, 0.5, 0.6, 0.7, 0.8], "labels": false, "ticks": true, "tickSize": 10, "tickWidth": 2, "tickColor": "black", "domain": false, "grid": false, "title": null}},
"detail": {"field": "branch", "type": "nominal"},
"stroke": {"field": "series", "type": "nominal", "scale": {"domain": ["Critical Line", "Vacuum Line"], "range": ["black", "black"]},
 "legend": {"orient": "bottom-left", "offset": 5, "title": null, "fillColor": "white", "strokeColor": "black", "padding": 5, "labelFont": "Liberation Sans", "labelFontSize": 27, "labelLimit": 400, "labelOffset": 6, "symbolSize": 1024, "symbolStrokeWidth": 2.7, "rowPadding": 0,
  "encode": {"symbols": {"update": {"shape": {"signal": "datum.value === 'Critical Line' ? 'M-1,0H1M0.38,0A0.38,0.38,0,1,1,-0.38,0A0.38,0.38,0,1,1,0.38,0Z' : 'M-1,0H1'"}, "fill": {"value": "black"}, "stroke": {"value": "black"}, "strokeWidth": {"value": 2.7}}}}}}
}
},
{
"data": {"name": "lines"},
"transform": [{"filter": "datum.series === 'Critical Line' && datum.t < 0.2486 && datum.mu < 0.835"}],
"mark": {"type": "circle", "size": 150, "color": "black", "opacity": 1},
"encoding": {
"x": {"field": "t", "type": "quantitative", "scale": {"domain": [0, 0.2486], "nice": false, "zero": false}, "axis": null},
"y": {"field": "mu", "type": "quantitative", "scale": {"domain": [-0.298, 0.835], "nice": false, "zero": false}, "axis": null}
}
}
],
"resolve": {"axis": {"x": "independent", "y": "independent"}}
}
